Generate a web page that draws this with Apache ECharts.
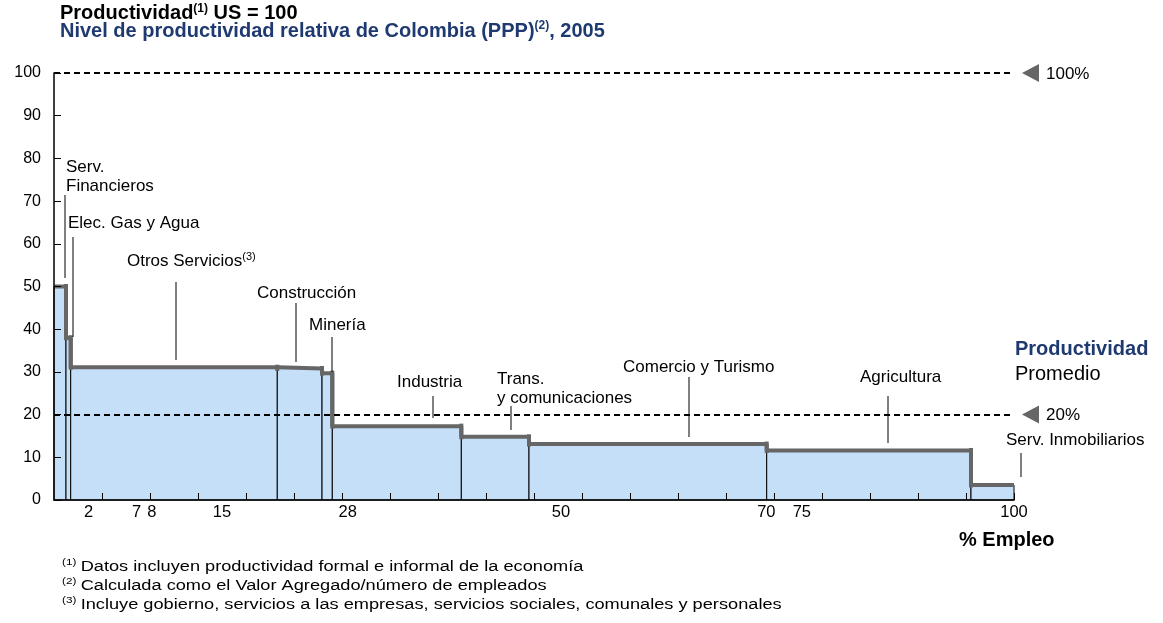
<!DOCTYPE html>
<html>
<head>
<meta charset="utf-8">
<script src="https://cdn.jsdelivr.net/npm/echarts@6/dist/echarts.min.js"></script>
<style>
  html, body { margin: 0; padding: 0; background: #fff; }
  #chart { width: 1163px; height: 623px; }
</style>
</head>
<body>
<div id="chart"></div>
<script>
// sectores ordenados por productividad
const sectors = ['Serv. Financieros', 'Elec. Gas y Agua', 'Otros Servicios', 'Construcción', 'Minería',
  'Industria', 'Trans. y comunicaciones', 'Comercio y Turismo', 'Agricultura', 'Serv. Inmobiliarios'];
// % empleo acumulado (inicio / fin de cada sector)
const empStart = [0, 1.25, 1.74, 23.26, 27.92, 28.99, 42.43, 49.48, 74.24, 95.52];
const empEnd = [1.25, 1.74, 23.26, 27.92, 28.99, 42.43, 49.48, 74.24, 95.52, 100];
// productividad relativa (US = 100)
const productivity = [50, 38, 31.1, 30.8, 29.7, 17.3, 14.8, 13.1, 11.6, 3.5];
// eje x: marcas y etiquetas
const xTickPos = [5, 10, 15, 20, 25, 30, 35, 40, 45, 50, 55, 60, 65, 70, 75, 80, 85, 90, 95, 100];
const xLabelText = ['2', '7', '8', '15', '28', '50', '70', '75', '100'];
const xLabelPos = [3.6, 8.6, 10.2, 17.5, 30.6, 52.8, 74.2, 77.9, 100];
// lineas de referencia
const refLevels = [100, 20];
const refText = ['100%', '20%'];

const FONT = '"Liberation Sans", Arial, sans-serif';
const BLUE = '#1F3A70';
const GRAY = '#666';

const chart = echarts.init(document.getElementById('chart'));

const stepData = empStart.map((s, i) => [s, productivity[i]]);
stepData.push([empEnd[empEnd.length - 1], productivity[productivity.length - 1]]);

// anotaciones: texto (px) + linea guia (px)
const notes = [
  { t: 'Serv.\nFinancieros', x: 66, y: 177, l: [65, 195, 278] },
  { t: 'Elec. Gas y Agua', x: 68, y: 223, l: [73, 237, 337] },
  { t: '{n|Otros Servicios}{s|(3)}', x: 127, y: 261, l: [176, 282, 360] },
  { t: 'Construcción', x: 257, y: 293, l: [296, 303, 362] },
  { t: 'Minería', x: 309, y: 325, l: [332, 337, 372] },
  { t: 'Industria', x: 397, y: 382, l: [433, 396, 418] },
  { t: 'Trans.\ny comunicaciones', x: 497, y: 389, l: [511, 406, 430] },
  { t: 'Comercio y Turismo', x: 623, y: 367, l: [689, 377, 437] },
  { t: 'Agricultura', x: 860, y: 377, l: [888, 396, 443] },
  { t: 'Serv. Inmobiliarios', x: 1006, y: 440, l: [1021, 453, 477] }
];

const option = {
  animation: false,
  grid: { left: 54, right: 149, top: 73, bottom: 123 },
  xAxis: {
    type: 'value',
    z: 5,
    min: 0, max: 100, interval: 5,
    axisLine: { lineStyle: { color: '#000', width: 1.5 } },
    axisTick: { show: true, inside: true, length: 7, customValues: xTickPos, lineStyle: { color: '#000', width: 1 } },
    axisLabel: {
      customValues: xLabelPos,
      formatter: v => { const i = xLabelPos.indexOf(v); return i >= 0 ? xLabelText[i] : ''; },
      color: '#000', fontSize: 16.5, fontFamily: FONT, margin: 4
    },
    splitLine: { show: false }
  },
  yAxis: {
    type: 'value',
    z: 5,
    min: 0, max: 100, interval: 10,
    axisLine: { show: true, lineStyle: { color: '#000', width: 1.5 } },
    axisTick: { show: true, inside: true, length: 7, lineStyle: { color: '#000', width: 1 } },
    axisLabel: { color: '#000', fontSize: 16, fontFamily: FONT, margin: 13 },
    splitLine: { show: false }
  },
  series: [
    {
      type: 'custom',
      z: 1,
      data: sectors.map((s, i) => [empStart[i], empEnd[i], productivity[i]]),
      renderItem: (params, api) => {
        const p0 = api.coord([api.value(0), 0]);
        const p1 = api.coord([api.value(1), api.value(2)]);
        return {
          type: 'rect',
          shape: { x: p0[0], y: p1[1], width: p1[0] - p0[0], height: p0[1] - p1[1] },
          style: { fill: '#C6DFF8', stroke: '#000', lineWidth: 1 }
        };
      }
    },
    {
      type: 'line',
      z: 3,
      step: 'end',
      data: stepData,
      symbol: 'none',
      lineStyle: { color: GRAY, width: 4 },
      markLine: {
        silent: true,
        symbol: 'none',
        label: { show: false },
        lineStyle: { color: '#000', type: [6, 4], width: 2 },
        data: refLevels.map(v => ({ yAxis: v }))
      }
    },
    {
      // pequeños remates del escalon en cada cambio de sector
      type: 'custom',
      z: 4,
      data: sectors.slice(0, -1).map((s, i) => [empEnd[i], productivity[i], productivity[i + 1]]),
      renderItem: (params, api) => {
        const a = api.coord([api.value(0), api.value(1)]);
        const b = api.coord([api.value(0), api.value(2)]);
        const top = Math.min(a[1], b[1]), bot = Math.max(a[1], b[1]);
        return {
          type: 'line',
          shape: { x1: a[0], y1: top - 2.5, x2: a[0], y2: bot + 2.5 },
          style: { stroke: GRAY, lineWidth: 4 }
        };
      }
    }
  ]
};

chart.setOption(option);

const graphics = [
  {
    type: 'text', x: 60, y: 13.5,
    style: {
      text: '{b|Productividad}{bs|(1)}{b| US = 100}',
      verticalAlign: 'middle',
      rich: {
        b: { fontSize: 20, fontWeight: 'bold', fontFamily: FONT, fill: '#000', lineHeight: 22 },
        bs: { fontSize: 12, fontWeight: 'bold', fontFamily: FONT, fill: '#000', verticalAlign: 'top', lineHeight: 22 }
      }
    }
  },
  {
    type: 'text', x: 60, y: 31,
    style: {
      text: '{b|Nivel de productividad relativa de Colombia (PPP)}{bs|(2)}{b|, 2005}',
      verticalAlign: 'middle',
      rich: {
        b: { fontSize: 20, fontWeight: 'bold', fontFamily: FONT, fill: BLUE, lineHeight: 22 },
        bs: { fontSize: 12, fontWeight: 'bold', fontFamily: FONT, fill: BLUE, verticalAlign: 'top', lineHeight: 22 }
      }
    }
  },
  {
    type: 'text', x: 1015, y: 349,
    style: { text: 'Productividad', font: 'bold 20px ' + FONT, fill: BLUE, verticalAlign: 'middle' }
  },
  {
    type: 'text', x: 1015, y: 374,
    style: { text: 'Promedio', font: '20px ' + FONT, fill: '#000', verticalAlign: 'middle' }
  },
  {
    type: 'text', x: 959, y: 540,
    style: { text: '% Empleo', font: 'bold 20px ' + FONT, fill: '#000', verticalAlign: 'middle' }
  }
];

const footnotes = [
  'Datos incluyen productividad formal e informal de la economía',
  'Calculada como el Valor Agregado/número de empleados',
  'Incluye gobierno, servicios a las empresas, servicios sociales, comunales y personales'
];
footnotes.forEach((f, i) => {
  graphics.push({
    type: 'text', x: 62, y: 567 + i * 19, scaleX: 1.3,
    style: {
      text: '{s|(' + (i + 1) + ')} {t|' + f + '}',
      verticalAlign: 'middle',
      rich: {
        t: { fontSize: 14, fontFamily: FONT, fill: '#000', lineHeight: 18 },
        s: { fontSize: 9, fontFamily: FONT, fill: '#000', verticalAlign: 'top', lineHeight: 18 }
      }
    }
  });
});

notes.forEach(n => {
  graphics.push({
    type: 'text', x: n.x, y: n.y,
    style: {
      text: n.t, fill: '#000', fontSize: 17, fontFamily: FONT, lineHeight: 19,
      verticalAlign: 'middle',
      rich: {
        n: { fontSize: 17, fontFamily: FONT, fill: '#000' },
        s: { fontSize: 11, fontFamily: FONT, fill: '#000', verticalAlign: 'top' }
      }
    }
  });
  graphics.push({
    type: 'line', z: 10,
    shape: { x1: n.l[0], y1: n.l[1], x2: n.l[0], y2: n.l[2] },
    style: { stroke: '#000', lineWidth: 1 }
  });
});

refLevels.forEach((v, i) => {
  const y = chart.convertToPixel({ gridIndex: 0 }, [0, v])[1];
  graphics.push({
    type: 'polygon',
    shape: { points: [[1039, y - 9], [1039, y + 9], [1022, y]] },
    style: { fill: GRAY }
  });
  graphics.push({
    type: 'text', x: 1046, y: y + 1,
    style: { text: refText[i], fill: '#000', fontSize: 17, fontFamily: FONT, verticalAlign: 'middle' }
  });
});

chart.setOption({ graphic: graphics });
</script>
</body>
</html>
